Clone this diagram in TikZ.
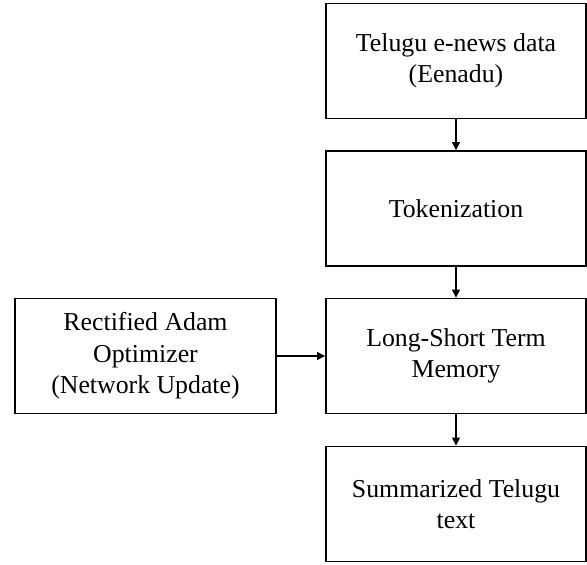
\documentclass[tikz,border=0pt]{standalone}
\usepackage{fontspec}
\setmainfont{Liberation Serif}
\usetikzlibrary{arrows.meta}
\begin{document}
\begin{tikzpicture}[x=1pt,y=1pt,
  box/.style={draw=black, line width=1.8pt, minimum width=260pt, minimum height=115pt,
    inner sep=0pt, align=center, font=\fontsize{25.8}{31.5}\selectfont},
  conn/.style={line width=1.3pt, -{Triangle[width=8pt,length=8pt]}}]
\useasboundingbox (0,0) rectangle (587,-565);
\node[box] (data) at (456,-61) {Telugu e-news data\\(Eenadu)};
\node[box] (tok) at (456,-208.5) {Tokenization};
\node[box] (lstm) at (456,-356) {Long-Short Term\\Memory};
\node[box] (sum) at (456,-504) {Summarized Telugu\\text};
\node[box, minimum width=261pt] (radam) at (145.5,-356) {Rectified Adam\\Optimizer\\(Network Update)};
\draw[conn] (data) -- (tok);
\draw[conn] (tok) -- (lstm);
\draw[conn] (lstm) -- (sum);
\draw[conn] (radam) -- (lstm);
\end{tikzpicture}
\end{document}
